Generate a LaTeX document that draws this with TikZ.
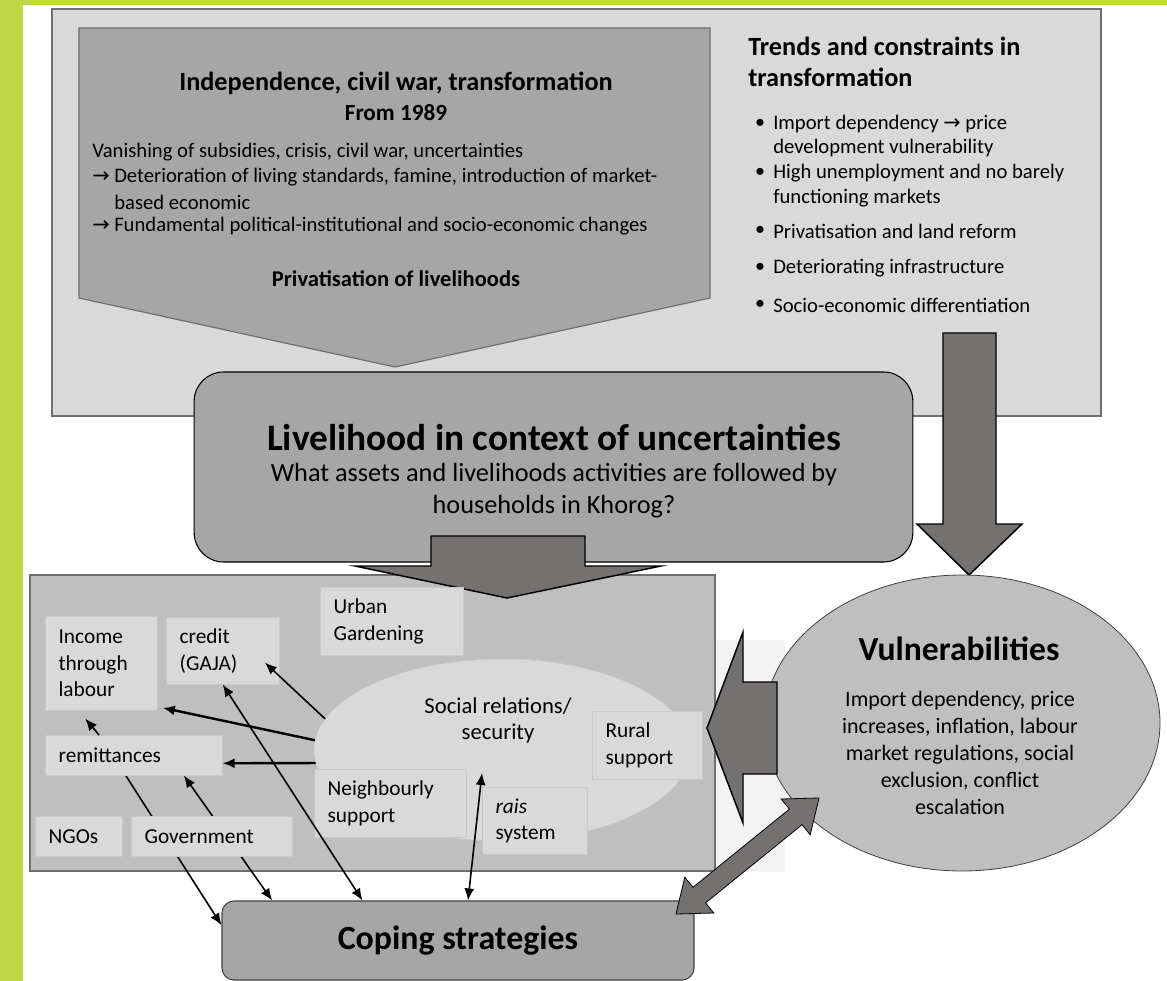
\documentclass[tikz,border=0pt]{standalone}
\usepackage{fontspec}
\setmainfont{Carlito}
\newfontfamily\symfont{DejaVu Sans}
\usetikzlibrary{shapes.geometric,arrows.meta}
\pgfdeclarelayer{behind}
\pgfsetlayers{behind,main}
\definecolor{limegreen}{HTML}{BED742}
\definecolor{panel}{HTML}{D9D9D9}
\definecolor{midgray}{HTML}{A6A6A6}
\definecolor{boxgray}{HTML}{BFBFBF}
\definecolor{arrowgray}{HTML}{767171}
\definecolor{edgegray}{HTML}{6F6F6F}
\definecolor{paleline}{HTML}{C8C8C8}
\definecolor{haze}{HTML}{F3F3F3}
\begin{document}
\begin{tikzpicture}[x=0.75pt,y=-0.75pt,>={Latex[length=9pt,width=7.5pt]},
    blockarrow/.style={fill=arrowgray,draw=black,line width=1.1pt},
    smallbox/.style={draw=paleline,fill=panel,anchor=north west,align=left,
      inner xsep=10pt,inner ysep=1pt,font=\fontsize{16}{20}\selectfont},
    bodyline/.style={anchor=west,inner sep=0pt,font=\fontsize{15.5}{18}\selectfont},
    link/.style={->,line width=1.2pt},
    linkboth/.style={<->,line width=1.2pt}]
  \useasboundingbox (0,0) rectangle (1167,981);
  % green frame
  \fill [limegreen] (0,0) rectangle (1167,5) ;
  \fill [limegreen] (0,0) rectangle (23,981) ;
  % context panel
  \draw [edgegray,line width=0.9pt,fill=panel] (52,9) rectangle (1101,416) ;
  \draw [edgegray,line width=0.9pt,fill=midgray] (79,28) -- (710,28) -- (710,298) -- (395,367) -- (79,298) -- cycle ;
  \node [inner sep=0pt,font=\fontsize{19.7}{23}\bfseries] (indep) at (396,83) {Independence, civil war, transformation} ;
  \node [inner sep=0pt,font=\fontsize{17.4}{21}\bfseries] (year) at (396,113) {From 1989} ;
  \node [bodyline] (vanish) at (92,152) {Vanishing of subsidies, crisis, civil war, uncertainties} ;
  \node [bodyline] (deter) at (92,177) {{\symfont →} Deterioration of living standards, famine, introduction of market-} ;
  \node [bodyline] (based) at (92,202) {\hphantom{{\symfont →} }based economic} ;
  \node [bodyline] (fund) at (92,226) {{\symfont →} Fundamental political-institutional and socio-economic changes} ;
  \node [inner sep=0pt,font=\fontsize{16.9}{20}\bfseries] (priv) at (396,279) {Privatisation of livelihoods} ;
  % trends list
  \node [anchor=west,inner sep=0pt,font=\fontsize{19.7}{23}\bfseries] (trends) at (748,46) {Trends and constraints in} ;
  \node [anchor=west,inner sep=0pt,font=\fontsize{19.7}{23}\bfseries] (trends2) at (748,77) {transformation} ;
  \foreach \yy in {124,173,231,268,305} {
    \node [inner sep=0pt,font=\fontsize{15}{18}\selectfont] at (760,\yy) {•} ;
  }
  \node [bodyline] (t1) at (773,124) {Import dependency {\symfont →} price} ;
  \node [bodyline] (t1b) at (773,148) {development vulnerability} ;
  \node [bodyline] (t2) at (773,173) {High unemployment and no barely} ;
  \node [bodyline] (t2b) at (773,198) {functioning markets} ;
  \node [bodyline] (t3) at (773,231) {Privatisation and land reform} ;
  \node [bodyline] (t4) at (773,268) {Deteriorating infrastructure} ;
  \node [bodyline] (t5) at (773,305) {Socio-economic differentiation} ;
  % livelihood box
  \node [draw=black,line width=0.8pt,fill=midgray,rounded corners=22pt,minimum width=539pt,minimum height=142.5pt] (live) at (553.5,467) {} ;
  \node [inner sep=0pt,font=\fontsize{28}{34}\bfseries] (livetitle) at (554,438) {Livelihood in context of uncertainties} ;
  \node [inner sep=0pt,align=center,font=\fontsize{19.7}{24}\selectfont] (livesub) at (554,491) {What assets and livelihoods activities are followed by\\households in Khorog?} ;
  \draw [blockarrow] (943,333) -- (996,333) -- (996,524) -- (1022,524) -- (969,575) -- (917,524) -- (943,524) -- cycle ;
  % vulnerabilities
  \node [ellipse,draw=black!75,line width=0.6pt,fill=boxgray,minimum width=297pt,minimum height=222pt] (vuln) at (962,723) {} ;
  \node [inner sep=0pt,font=\fontsize{25.2}{30}\bfseries] (vulntitle) at (959,649) {Vulnerabilities} ;
  \node [inner sep=0pt,align=center,font=\fontsize{16.5}{20.4}\selectfont] (vulntext) at (960,753) {Import dependency, price\\increases, inflation, labour\\market regulations, social\\exclusion, conflict\\escalation} ;
  % assets panel
  \begin{pgfonlayer}{behind}
    \fill [haze] (715,640) rectangle (785,872) ;
    \draw [edgegray,line width=0.9pt,fill=boxgray] (30,575) rectangle (715,871) ;
  \end{pgfonlayer}
  \draw [blockarrow] (431,536) -- (585,536) -- (585,566) -- (661,566) -- (507,598) -- (355,566) -- (431,566) -- cycle ;
  \node [ellipse,draw=paleline,fill=panel,minimum width=282pt,minimum height=136.5pt] (social) at (502,750) {} ;
  \node [inner sep=0pt,align=center,font=\fontsize{17}{19.5}\selectfont] (socialtxt) at (498,720) {Social relations/\\security} ;
  \node [smallbox,text width=64pt,minimum height=70.5pt] (income) at (45,616) {Income\\through\\labour} ;
  \node [smallbox,text width=64.75pt,minimum height=50.25pt] (credit) at (166,617) {credit\\(GAJA)} ;
  \node [smallbox,text width=87.25pt,minimum height=51pt] (urban) at (320,587) {Urban\\Gardening} ;
  \node [smallbox,text width=112.75pt,minimum height=30pt] (remit) at (45,735) {remittances} ;
  \node [smallbox,text width=45.25pt,minimum height=30pt] (ngo) at (35,816) {NGOs} ;
  \node [smallbox,text width=100.75pt,minimum height=30pt] (gov) at (131,816) {Government} ;
  \node [smallbox,text width=94pt,minimum height=51pt] (neigh) at (314,769) {Neighbourly\\support} ;
  \node [smallbox,text width=58.75pt,minimum height=50.25pt] (rais) at (482,787) {\textit{rais}\\system} ;
  \node [smallbox,text width=62.5pt,minimum height=51pt] (rural) at (592,711) {Rural\\support} ;
  % coping
  \node [draw=black!75,line width=0.8pt,fill=midgray,rounded corners=9pt,minimum width=354pt,minimum height=59.25pt,font=\fontsize{25.4}{30}\bfseries] (cope) at (458,940.5) {Coping strategies} ;
  % links
  \draw [link] (social.170) -- ([xshift=-11pt,yshift=16.5pt]credit.south east) ;
  \draw [link,line width=1.8pt] (social.177) -- ([xshift=4pt,yshift=2pt]income.south east) ;
  \draw [link,line width=1.8pt] (social.184) -- ([yshift=-6pt]remit.east) ;
  \draw [link] ([xshift=-26pt]remit.north) -- ([xshift=-12pt,yshift=-6pt]income.south) ;
  \draw [linkboth] (credit.south) -- ([xshift=105.75pt]cope.north west) ;
  \draw [linkboth] ([xshift=-15pt,yshift=-17.25pt]social.center) -- ([xshift=7.5pt]cope.north) ;
  \begin{pgfonlayer}{behind}
    \draw [link] ([xshift=-6pt]remit.south) -- ([yshift=11.5pt]cope.west) ;
    \draw [linkboth] ([xshift=-29pt]remit.south east) -- ([xshift=38pt]cope.north west) ;
  \end{pgfonlayer}
  % block arrows round vulnerabilities
  \draw [blockarrow] (707,728) -- (743,632) -- (743,682) -- (777,682) -- (777,774) -- (743,774) -- (743,823) -- cycle ;
  \draw [blockarrow,line width=0.6pt] (676,914) -- (713.8,913) -- (705.6,902.9) -- (802,824.7) -- (810.2,834.8) -- (819,798) -- (781.2,799) -- (789.4,809.1) -- (693,887.3) -- (684.8,877.2) -- cycle ;
\end{tikzpicture}
\end{document}
